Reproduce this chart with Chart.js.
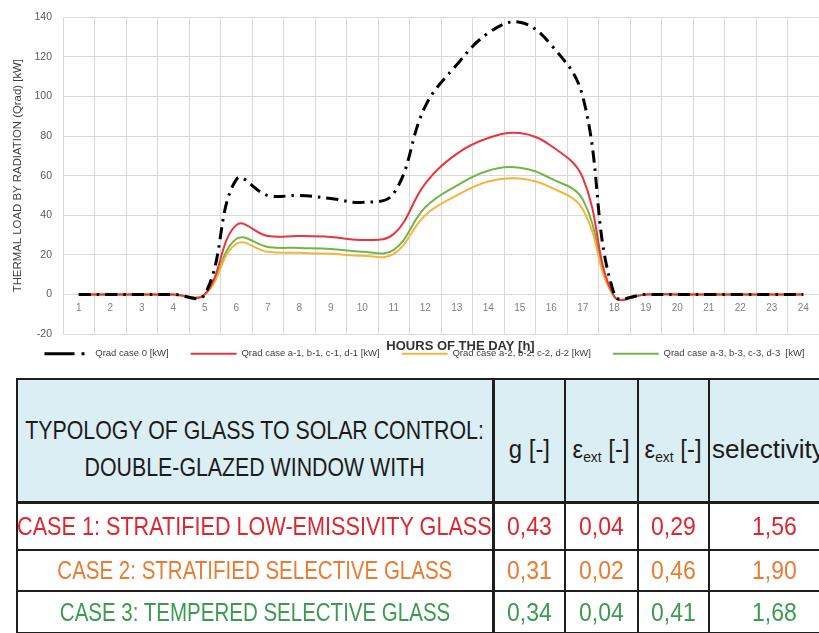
<!DOCTYPE html>
<html>
<head>
<meta charset="utf-8">
<script src="https://cdn.jsdelivr.net/npm/chart.js@4.4.1/dist/chart.umd.min.js"></script>
<style>
  html, body { margin: 0; padding: 0; background: #fff; width: 819px; height: 633px; overflow: hidden; position: relative; }
  #chartBox { position: absolute; left: 0; top: 0; width: 819px; height: 400px; }
  table.glass {
    position: absolute; left: 16px; top: 378px;
    border-collapse: collapse; table-layout: fixed; width: 823px;
    font-family: 'Liberation Sans', Arial, sans-serif;
  }
  table.glass th, table.glass td {
    border: 2px solid #1e1e1e; padding: 0;
    white-space: nowrap; overflow: visible; font-weight: normal;
  }
  table.glass th { background: #dbeef4; height: 104px; font-size: 26px; color: #1c1c1c; padding-top: 17px; }
  table.glass th.first { line-height: 37px; }
  table.glass tr.head th { border-bottom-width: 3px; }
  table.glass .first { border-right-width: 3px; }
  table.glass td { font-size: 25px; }
  table.glass sub { font-size: 58%; vertical-align: -0.25em; }
  /* centred cell content that may spill evenly over both sides */
  .c { display: flex; justify-content: center; align-items: center; }
  .c.start { justify-content: flex-start; padding-left: 2px; }
  /* condensed lettering */
  .cn { display: inline-block; flex-shrink: 0; text-align: center; transform: scaleX(0.82); transform-origin: 50% 50%; }
  .cn.num { transform: scaleX(0.92); }
  .cn.left { transform: none; }
</style>
</head>
<body>
<div id="chartBox"><canvas id="chart" width="819" height="400"></canvas></div>
<table class="glass" id="glassTable">
  <colgroup>
    <col style="width:476px"><col style="width:72px"><col style="width:73px"><col style="width:71px"><col style="width:131px">
  </colgroup>
  <tr class="head">
    <th class="first"><div class="c"><span class="cn">TYPOLOGY OF GLASS TO SOLAR CONTROL:<br>DOUBLE-GLAZED WINDOW WITH</span></div></th>
    <th><div class="c"><span class="cn num">g [-]</span></div></th>
    <th><div class="c"><span class="cn num">ε<sub>ext</sub> [-]</span></div></th>
    <th><div class="c"><span class="cn num">ε<sub>ext</sub> [-]</span></div></th>
    <th><div class="c start"><span class="cn left">selectivity</span></div></th>
  </tr>
</table>
<script>
// Hours of the day (category axis)
const hours = ['1','2','3','4','5','6','7','8','9','10','11','12',
               '13','14','15','16','17','18','19','20','21','22','23','24'];

// Thermal load by radiation, kW, one value per hour
const qradCase0 = [0, 0, 0, 0, 0, 58, 50, 50, 48.5, 46.5, 51, 95,
                   116, 132, 137.5, 126, 100, 0, 0, 0, 0, 0, 0, 0];
const qradCase1 = [0, 0, 0, 0, 0, 35, 29.5, 29.5, 29, 27.5, 30.5, 56,
                   71, 79, 81.5, 75, 59, -1, 0, 0, 0, 0, 0, 0];
const qradCase2 = [0, 0, 0, 0, 0, 25.5, 21.5, 21, 20.5, 19.5, 20.5, 40,
                   50, 57, 58.5, 54, 43, -1, 0, 0, 0, 0, 0, 0];
const qradCase3 = [0, 0, 0, 0, 0, 28, 24, 23.5, 23, 21.5, 22.5, 44,
                   55, 62.5, 64, 58.5, 48, -1, 0, 0, 0, 0, 0, 0];

const seriesLabels = ['Qrad case 0 [kW]',
                      'Qrad case a-1, b-1, c-1, d-1 [kW]',
                      'Qrad case a-2, b-2, c-2, d-2 [kW]',
                      'Qrad case a-3, b-3, c-3, d-3  [kW]'];

// Y axis range and step
const yMin = -20, yMax = 140, yStep = 20;

// Glass properties table
const caseNames = ['CASE 1: STRATIFIED LOW-EMISSIVITY GLASS',
                   'CASE 2: STRATIFIED SELECTIVE GLASS',
                   'CASE 3: TEMPERED SELECTIVE GLASS'];
const gValues = [0.43, 0.31, 0.34];
const epsExtA = [0.04, 0.02, 0.04];
const epsExtB = [0.29, 0.46, 0.41];
const selectivity = [1.56, 1.90, 1.68];

const caseTextColors = ['#dd2730', '#ea7b30', '#3c9b50'];
const caseNameScale = [0.865, 0.82, 0.82];
const rowHeights = [45, 39, 40];
const fmt = v => v.toFixed(2).replace('.', ',');

const table = document.getElementById('glassTable');
caseNames.forEach((name, i) => {
  const tr = document.createElement('tr');
  tr.style.color = caseTextColors[i];
  [name, fmt(gValues[i]), fmt(epsExtA[i]), fmt(epsExtB[i]), fmt(selectivity[i])].forEach((txt, j) => {
    const td = document.createElement('td');
    td.style.height = rowHeights[i] + 'px';
    if (j === 0) td.className = 'first';
    const box = document.createElement('div');
    box.className = 'c';
    const span = document.createElement('span');
    span.className = j === 0 ? 'cn' : 'cn num';
    if (j === 0) span.style.transform = 'scaleX(' + caseNameScale[i] + ')';
    span.textContent = txt;
    box.appendChild(span);
    td.appendChild(box);
    tr.appendChild(td);
  });
  table.appendChild(tr);
});

// Moves the bottom title and legend after layout
const shiftBoxes = {
  id: 'shiftBoxes',
  afterLayout(chart, args, opts) {
    const moves = [[chart.legend, opts.legend], [chart.titleBlock, opts.title]];
    moves.forEach(([box, d]) => {
      if (!box || !d) return;
      box.left += d.x || 0; box.right += d.x || 0;
      box.top += d.y || 0; box.bottom += d.y || 0;
    });
  }
};

const lineBase = { pointRadius: 0, pointHoverRadius: 0, tension: 0.4, fill: false };
const fam = "'Liberation Sans', Arial, sans-serif";

new Chart(document.getElementById('chart'), {
  type: 'line',
  data: {
    labels: hours,
    datasets: [
      Object.assign({ label: seriesLabels[0], data: qradCase0, borderColor: '#000000', borderWidth: 3,
                      borderDash: [12, 6, 2.5, 6] }, lineBase),
      Object.assign({ label: seriesLabels[1], data: qradCase1, borderColor: '#e8343c', borderWidth: 2 }, lineBase),
      Object.assign({ label: seriesLabels[2], data: qradCase2, borderColor: '#f5b53a', borderWidth: 2 }, lineBase),
      Object.assign({ label: seriesLabels[3], data: qradCase3, borderColor: '#74b54b', borderWidth: 2 }, lineBase)
    ]
  },
  options: {
    responsive: false,
    animation: false,
    devicePixelRatio: 1,
    layout: { padding: { left: 0, right: 0, top: 10, bottom: 5.5 } },
    scales: {
      x: {
        type: 'category',
        position: { y: 0 },
        offset: true,
        grid: { offset: true, color: '#d9d9d9', lineWidth: 1, drawTicks: false },
        border: { display: false },
        ticks: { color: '#808080', font: { size: 10, family: fam }, padding: 8, maxRotation: 0, autoSkip: false }
      },
      y: {
        min: yMin, max: yMax,
        grid: { color: '#d9d9d9', lineWidth: 1, drawTicks: false },
        border: { display: false },
        ticks: { stepSize: yStep, color: '#595959', font: { size: 10.5, family: fam }, padding: 11 },
        title: { display: true, text: 'THERMAL LOAD BY RADIATION (Qrad) [kW]', color: '#404040',
                 font: { size: 11.4, family: fam }, padding: { top: 11, bottom: 0 } },
        afterFit(scale) { scale.width = 63; }
      }
    },
    plugins: {
      tooltip: { enabled: false },
      title: {
        display: true, position: 'bottom', weight: 500,
        text: 'HOURS OF THE DAY [h]', color: '#333333',
        font: { size: 13, weight: 'bold', lineHeight: 1, family: fam },
        padding: { top: 6, bottom: 0 }
      },
      legend: {
        position: 'bottom',
        labels: {
          usePointStyle: true,
          pointStyle: 'line',
          pointStyleWidth: 46,
          color: '#404040',
          padding: 22,
          font: { size: 9.5, family: fam },
          generateLabels(chart) {
            const items = Chart.defaults.plugins.legend.labels.generateLabels(chart);
            items.forEach(it => { if (it.datasetIndex === 0) it.lineDash = [30, 7, 3, 60]; });
            return items;
          }
        }
      },
      shiftBoxes: { legend: { x: 15, y: -26 }, title: { x: 51, y: 0 } }
    }
  },
  plugins: [shiftBoxes]
});
</script>
</body>
</html>
